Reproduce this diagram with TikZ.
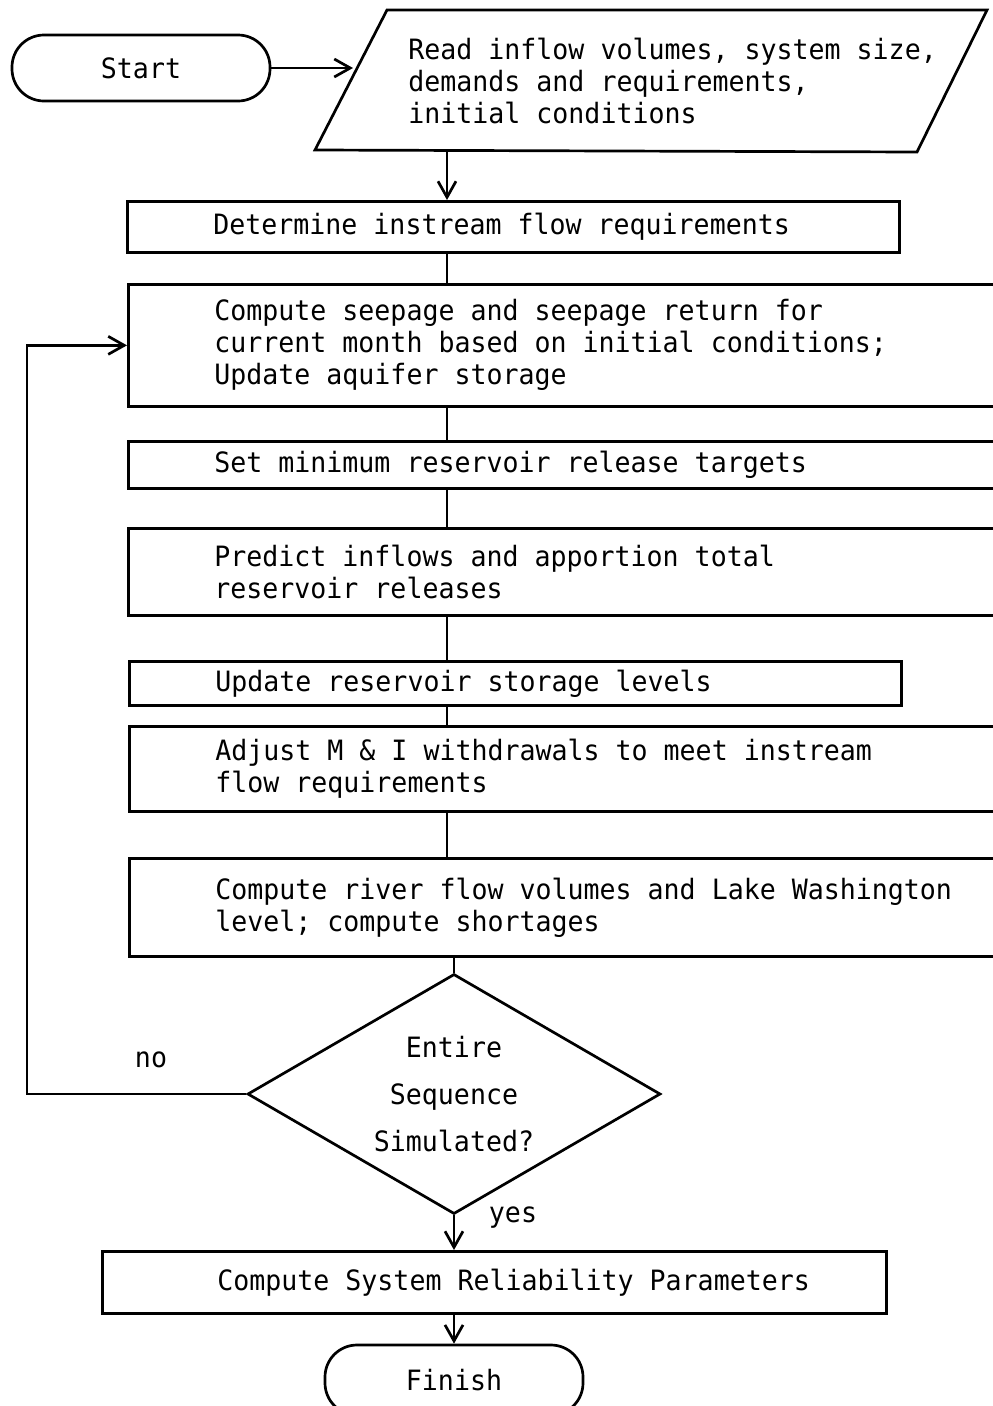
\documentclass[tikz,border=0pt]{standalone}
\usepackage{fontspec}
\newfontfamily\flowmono[FakeStretch=0.95]{DejaVu Sans Mono}
\newcommand\flowfont{\flowmono\fontsize{28}{32}\selectfont}
\usetikzlibrary{shapes.geometric,arrows.meta}
\tikzset{
  proc/.style={draw, rectangle, anchor=north west, inner xsep=86pt, inner ysep=0pt,
               align=flush left, font=\flowfont, text width=748pt},
  procshort/.style={proc, text width=600pt},
  term/.style={draw, rectangle, rounded corners=32pt, minimum width=258pt,
               minimum height=66pt, font=\flowfont, inner sep=0pt},
  decide/.style={draw, diamond, aspect=1.72, minimum width=413pt, minimum height=240pt,
                 inner sep=0pt, align=center, font=\flowmono\fontsize{28}{47}\selectfont},
  lbl/.style={font=\flowfont, inner sep=0pt},
  arr/.style={-{Straight Barb[length=16pt,width=18pt]}},
  conn/.style={-}
}
\begin{document}
\begin{tikzpicture}[x=1pt,y=-1pt,line width=2.7pt]
\useasboundingbox (0,0) rectangle (993,1406);
\clip (0,0) rectangle (993,1406);

% terminals
\node[term] (start) at (141,68) {Start};
\node[term, minimum height=70pt] (finish) at (454,1380) {Finish};

% input parallelogram
\coordinate (pTL) at (387,10);
\coordinate (pTR) at (987,10);
\coordinate (pBR) at (917,152);
\coordinate (pBL) at (315,150);
\draw (pTL) -- (pTR) -- (pBR) -- (pBL) -- cycle;
\node[anchor=west, align=left, font=\flowfont, inner sep=0pt] (read) at (407,81)
  {Read inflow volumes, system size,\\demands and requirements,\\initial conditions};
\coordinate (readL) at (353,69);
\coordinate (readB) at (447,151);

% process boxes
\node[procshort, minimum height=51pt] (det) at (126,200) {Determine instream flow requirements};
\node[proc, minimum height=122pt] (seep) at (127,283)
  {Compute seepage and seepage return for\\current month based on initial conditions;\\Update aquifer storage};
\node[proc, minimum height=47pt] (setmin) at (127,440) {Set minimum reservoir release targets};
\node[proc, minimum height=87pt] (pred) at (127,527)
  {Predict inflows and apportion total\\reservoir releases};
\node[procshort, minimum height=44pt] (upd) at (128,660) {Update reservoir storage levels};
\node[proc, minimum height=85pt] (adj) at (128,725)
  {Adjust M \& I withdrawals to meet instream\\flow requirements};
\node[proc, minimum height=98pt] (river) at (128,857)
  {Compute river flow volumes and Lake Washington\\level; compute shortages};

% decision
\node[decide] (dec) at (454,1094) {Entire\\Sequence\\Simulated?};

% final process
\node[draw, rectangle, anchor=north west, inner sep=0pt, text width=784pt,
      minimum height=62pt, align=flush left, font=\flowfont] (csr) at (101,1250)
  {\hspace*{115pt}Compute System Reliability Parameters};

% labels
\node[lbl] (no) at (151,1060) {no};
\node[lbl] (yes) at (513,1218) {yes};

% connectors
\coordinate (loopx) at (27,0);
\draw[arr] (start.east) -- (readL |- start.east);
\draw[arr] (readB) -- (readB |- det.north);
\draw[conn] (readB |- det.south) -- (readB |- seep.north);
\draw[conn] (readB |- seep.south) -- (readB |- setmin.north);
\draw[conn] (readB |- setmin.south) -- (readB |- pred.north);
\draw[conn] (readB |- pred.south) -- (readB |- upd.north);
\draw[conn] (readB |- upd.south) -- (readB |- adj.north);
\draw[conn] (readB |- adj.south) -- (readB |- river.north);
\draw[conn] (dec.north |- river.south) -- (dec.north);
\draw[arr] (dec.west) -- (dec.west -| loopx) -- (loopx |- seep.west) -- (seep.west);
\draw[arr] (dec.south) -- (dec.south |- csr.north);
\draw[arr] (finish.north |- csr.south) -- (finish.north);
\end{tikzpicture}
\end{document}
